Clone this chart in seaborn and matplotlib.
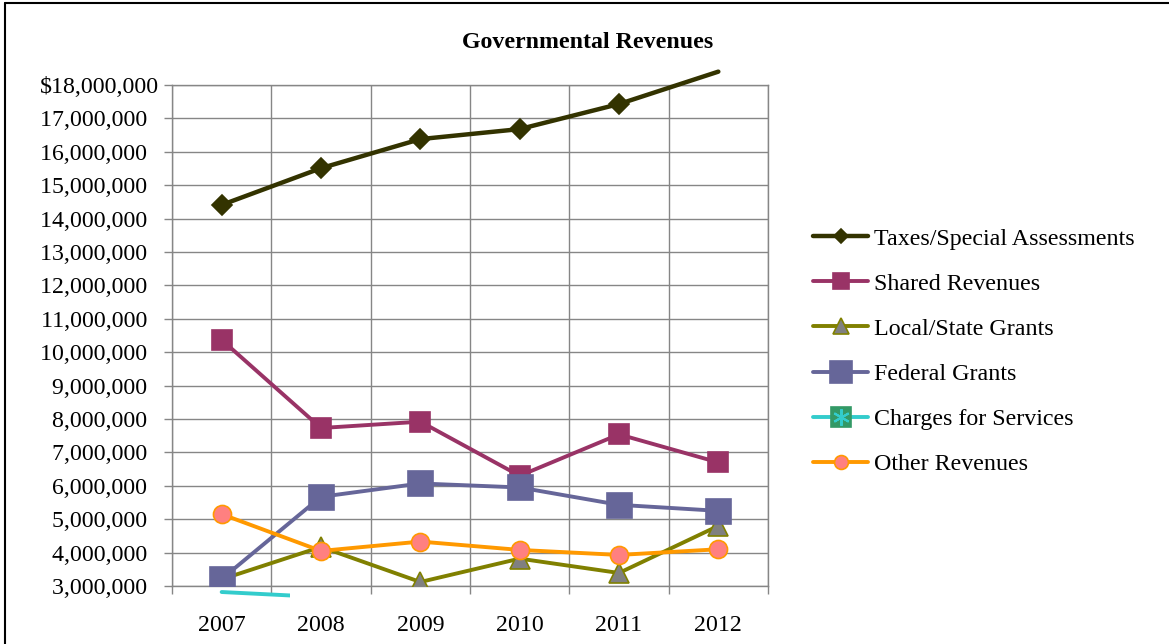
import numpy as np
import pandas as pd
import matplotlib
matplotlib.use("Agg")
import matplotlib.pyplot as plt
import seaborn as sns
from matplotlib.lines import Line2D
from matplotlib.patches import Rectangle
from matplotlib.ticker import FuncFormatter, FixedLocator

# ---- data ----
years = ["2007", "2008", "2009", "2010", "2011", "2012"]
taxes = [14_410_000, 15_510_000, 16_380_000, 16_680_000, 17_430_000, 18_400_000]
shared = [10_370_000, 7_730_000, 7_920_000, 6_300_000, 7_540_000, 6_700_000]
local_state = [3_200_000, 4_170_000, 3_120_000, 3_820_000, 3_390_000, 4_800_000]
federal = [3_210_000, 5_670_000, 6_070_000, 5_950_000, 5_430_000, 5_250_000]
charges = [2_820_000, 2_670_000, np.nan, np.nan, np.nan, np.nan]
other = [5_150_000, 4_050_000, 4_330_000, 4_080_000, 3_930_000, 4_100_000]

series_names = ["Taxes/Special Assessments", "Shared Revenues", "Local/State Grants",
                "Federal Grants", "Charges for Services", "Other Revenues"]
series_values = [taxes, shared, local_state, federal, charges, other]

y_min, y_max = 3_000_000, 18_000_000

df = pd.DataFrame({"pos": np.arange(len(years))})
for name, vals in zip(series_names, series_values):
    df[name] = vals

# line colour, line width, marker, plot marker size, legend marker size, face, edge
styles = {
    "Taxes/Special Assessments": ("#333300", 3.2, "D", 10, 7, "#333300", "#333300"),
    "Shared Revenues": ("#993366", 2.8, "s", 14, 12, "#993366", "#993366"),
    "Local/State Grants": ("#808000", 2.8, "^", 14, 12, "#808080", "#808000"),
    "Federal Grants": ("#666699", 2.8, "s", 18, 16, "#666699", "#666699"),
    "Charges for Services": ("#33CCCC", 2.8, "s", 15, 15, "#339966", "#339966"),
    "Other Revenues": ("#FF9900", 2.8, "o", 13, 10, "#FF8080", "#FF9900"),
}

sns.set_style("white")
plt.rcParams["font.family"] = ["Liberation Serif", "DejaVu Serif"]
plt.rcParams["text.color"] = "black"

fig = plt.figure(figsize=(11.69, 6.44), dpi=100)
ax = fig.add_axes([172 / 1169, 58 / 644, 596 / 1169, 501 / 644])

grid_col = "#868686"
handles = []
for i, name in enumerate(series_names):
    col, lw, mk, ms, lms, fc, ec = styles[name]
    z = 3 + i
    # line (Excel does not clip series lines to the plot area)
    sns.lineplot(data=df, x="pos", y=name, ax=ax, color=col, lw=lw,
                 clip_on=False, zorder=z)
    line = ax.lines[-1]
    if name == "Charges for Services":
        line.set_clip_on(True)
        line.set_clip_path(Rectangle((0, -0.1), 0.198, 1.3, transform=ax.transAxes))
    # markers only for points inside the value axis range
    inside = df[(df[name] >= y_min) & (df[name] <= y_max)]
    if len(inside):
        sns.lineplot(data=inside, x="pos", y=name, ax=ax, color=col, linestyle="none",
                     marker=mk, markersize=ms, markerfacecolor=fc,
                     markeredgecolor=ec, markeredgewidth=1.2, zorder=z + 0.5)

    h = Line2D([], [], color=col, lw=lw, marker=mk, markersize=lms,
               markerfacecolor=fc, markeredgecolor=ec, markeredgewidth=1.2)
    if name == "Charges for Services":
        star = Line2D([], [], linestyle="none", marker=(6, 2, 0), markersize=lms * 0.8,
                      markeredgecolor=col, markeredgewidth=1.5)
        h = (h, star)
    handles.append(h)

# axes and grid
ax.set_xlim(-0.5, 5.5)
ax.set_ylim(y_min, y_max)
ax.set_yticks(np.arange(y_min, y_max + 1, 1_000_000))
ax.set_xticks(np.arange(len(years)))
ax.set_xticklabels(years)
ax.xaxis.set_minor_locator(FixedLocator(np.arange(-0.5, 5.6, 1.0)))


def money(v, _):
    if v >= y_max:
        return f"${v:,.0f}"
    return f"{v:,.0f}\u2007"


ax.yaxis.set_major_formatter(FuncFormatter(money))
ax.set_xlabel("")
ax.set_ylabel("")

ax.grid(False)
ax.yaxis.grid(True, which="major", color=grid_col, lw=1)
ax.xaxis.grid(True, which="minor", color=grid_col, lw=1)
for sp in ax.spines.values():
    sp.set_color(grid_col)
    sp.set_linewidth(1)

ax.tick_params(axis="y", which="major", length=6, width=1, color=grid_col,
               direction="out", left=True, labelsize=17.2, pad=3, labelcolor="black")
ax.tick_params(axis="x", which="major", length=0, labelsize=17.2, pad=21,
               labelcolor="black")
ax.tick_params(axis="x", which="minor", length=6, width=1, color=grid_col,
               direction="out", bottom=True)

fig.text(588 / 1169, 1 - 43 / 644, "Governmental Revenues", ha="center",
         va="center", fontsize=17.2, fontweight="bold", color="black")

fig.legend(handles, series_names, loc="center left",
           bbox_to_anchor=(813 / 1169, 1 - 351.5 / 644), frameon=False,
           fontsize=17.3, handlelength=2.3, handletextpad=0.22, labelspacing=0.97,
           borderpad=0, borderaxespad=0, labelcolor="black")

# outer chart border (only the top and left edges are in view)
fig.add_artist(Line2D([0.004, 0.004], [0, 0.996], transform=fig.transFigure,
                      color="black", lw=1.5))
fig.add_artist(Line2D([0.004, 1], [0.996, 0.996], transform=fig.transFigure,
                      color="black", lw=1.5))

fig.savefig("out.png", dpi=100)
